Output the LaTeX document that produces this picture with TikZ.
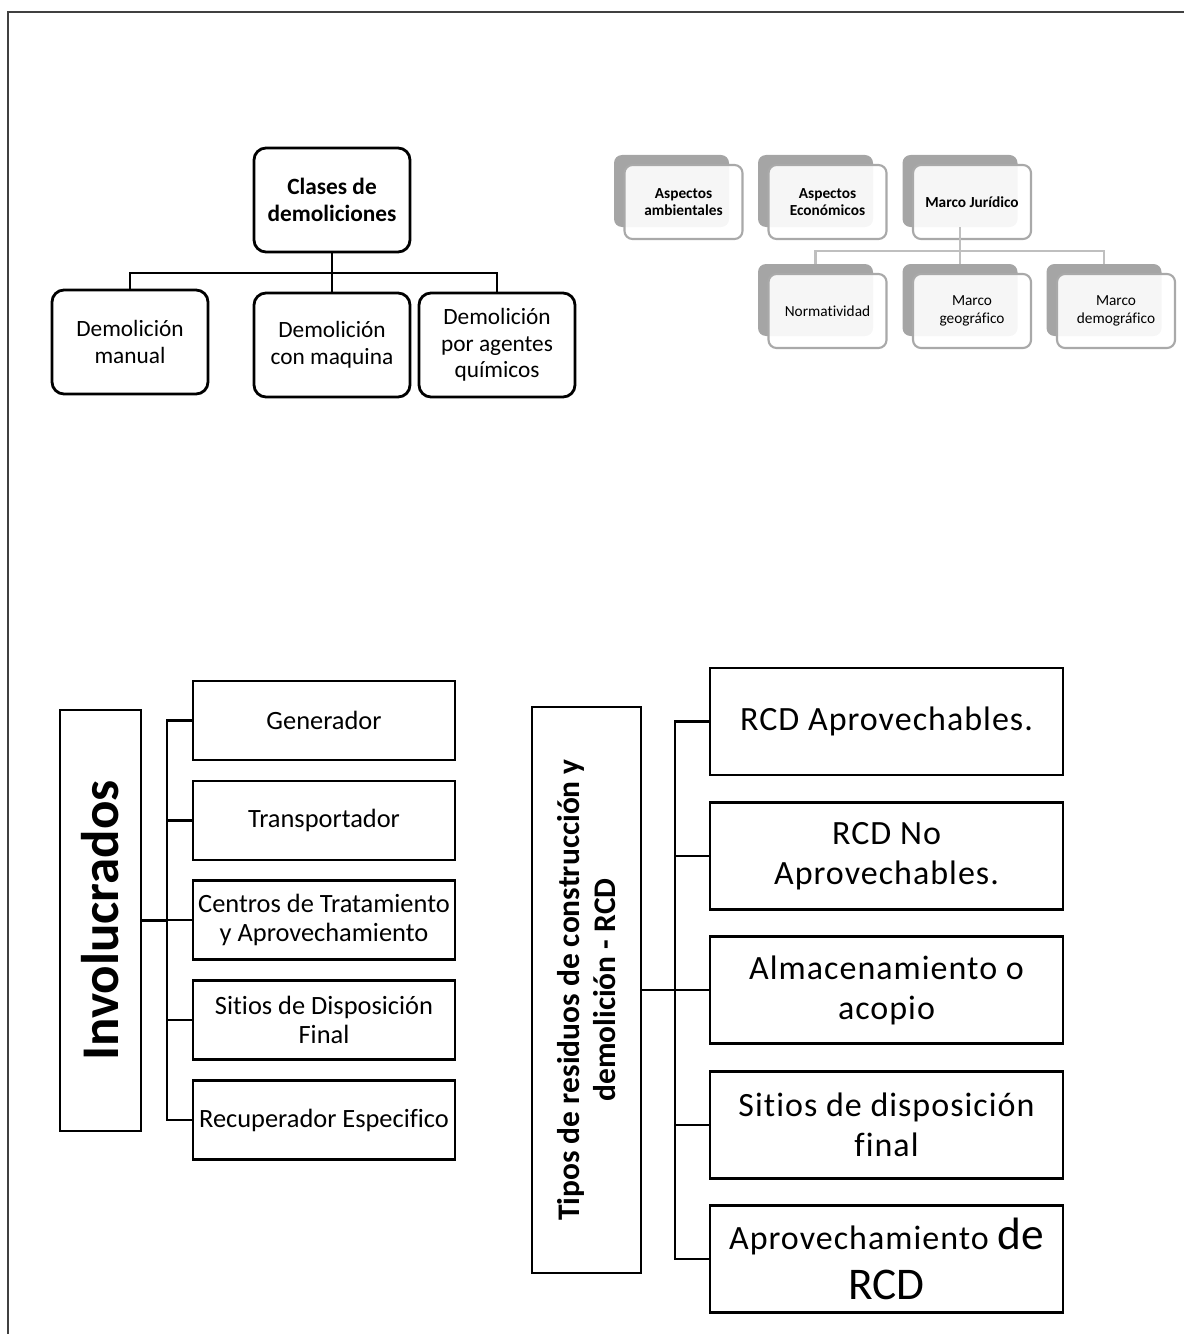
\documentclass[tikz,border=0pt]{standalone}
\usepackage{fontspec}
\setmainfont{Carlito}[Ligatures=NoCommon]
\newfontfamily\widefont[LetterSpace=3,Ligatures=NoCommon]{Carlito}
\definecolor{shadegray}{HTML}{A5A5A5}
\definecolor{edgegray}{HTML}{A9A9A9}
\definecolor{linkgray}{HTML}{BFBFBF}

\begin{document}
\begin{tikzpicture}[x=0.75pt,y=-0.75pt,
	demobox/.style={draw,line width=2.1pt,rounded corners=9pt,minimum width=117pt,minimum height=78pt,align=center,font=\fontsize{17.5}{20}\selectfont},
	backbox/.style={fill=shadegray,rounded corners=6pt,minimum width=86.25pt,minimum height=54pt},
	frontbox/.style={draw=edgegray,line width=1.6pt,fill=white,fill opacity=0.9,text opacity=1,rounded corners=6pt,minimum width=88.5pt,minimum height=55.5pt,align=center,font=\fontsize{11.5}{13}\selectfont},
	link/.style={draw=linkgray,line width=1.8pt},
	tree/.style={line width=2.1pt},
	inbox/.style={draw,line width=2.1pt,inner sep=1pt,minimum width=196.5pt,minimum height=59.25pt,align=center,font=\fontsize{19.8}{21.2}\selectfont},
	rcdbox/.style={draw,line width=2.1pt,inner sep=1pt,minimum width=264.75pt,minimum height=80.25pt,align=center,font=\widefont\fontsize{25.5}{30}\selectfont}]
	
	\useasboundingbox (0,0) rectangle (1184,1334);
	
	% Page frame
	\draw[line width=1.6pt,black!75] (1184,12) -- (8,12) -- (8,1334);
	
	% Clases de demoliciones
	\node[demobox,font=\bfseries\fontsize{17.5}{20}\selectfont] (clases) at (332,200) {Clases de\\demoliciones};
	\node[demobox] (manual) at (130,342) {Demolición\\manual};
	\node[demobox] (maquina) at (332,345) {Demolición\\con maquina};
	\node[demobox] (quimicos) at (497,345) {Demolición\\por agentes\\químicos};
	
	\coordinate (cbus) at (332,273);
	\draw[tree] (clases.south) -- (cbus);
	\draw[tree] (manual.north) |- (cbus) -| (quimicos.north);
	\draw[tree] (cbus) -- (maquina.north);
	
	% Aspectos and Marco Juridico (grey block behind each box)
	\node[backbox] (ambB) at (671.5,191) {};
	\node[frontbox,font=\bfseries\fontsize{11.5}{13}\selectfont] (amb) at (683.5,202) {Aspectos\\ambientales};
	\node[backbox] (ecoB) at (815.5,191) {};
	\node[frontbox,font=\bfseries\fontsize{11.5}{13}\selectfont] (eco) at (827.5,202) {Aspectos\\Económicos};
	\node[backbox] (jurB) at (960,191) {};
	\node[frontbox,font=\bfseries\fontsize{11.5}{13}\selectfont] (jur) at (972,202) {Marco Jurídico};
	
	\node[backbox] (norB) at (815.5,300) {};
	\node[frontbox] (nor) at (827.5,311) {Normatividad};
	\node[backbox] (geoB) at (960,300) {};
	\node[frontbox] (geo) at (972,311) {Marco\\geográfico};
	\node[backbox] (demB) at (1104,300) {};
	\node[frontbox] (dem) at (1116,311) {Marco\\demográfico};
	
	\coordinate (jbus) at (960,251);
	\draw[link] (jurB.south) -- (jbus);
	\draw[link] (norB.north) |- (jbus) -| (demB.north);
	\draw[link] (jbus) -- (geoB.north);
	
	% Involucrados
	\node[draw,line width=2.1pt,rotate=90,minimum width=315.75pt,minimum height=60.75pt,font=\bfseries\fontsize{39.75}{44}\selectfont] (invol) at (100.5,920.5) {Involucrados};
	\node[inbox] (gen) at (324,720.5) {Generador};
	\node[inbox] (trans) at (324,820.5) {Transportador};
	\node[inbox] (centros) at (324,920) {Centros de Tratamiento\\y Aprovechamiento};
	\node[inbox] (sitios) at (324,1020) {Sitios de Disposición\\Final};
	\node[inbox] (recup) at (324,1120) {Recuperador Especifico};
	
	% rotated box: its south side faces right
	\coordinate (ibus) at (167,920.5);
	\draw[tree] (invol.south) -- (ibus);
	\draw[tree] (gen.west) -| (ibus) |- (recup.west);
	\foreach \n in {trans,centros,sitios}
	\draw[tree] (\n.west) -- (\n.west -| ibus);
	
	% Tipos de RCD
	\node[draw,line width=2.1pt,rotate=90,minimum width=424.5pt,minimum height=81.75pt,align=center,font=\bfseries\fontsize{23.6}{26.5}\selectfont] (tipos) at (586.5,990) {Tipos de residuos de construcción y\\demolición - RCD};
	\node[rcdbox] (aprov) at (886.5,721.5) {RCD Aprovechables.};
	\node[rcdbox] (noaprov) at (886.5,856) {RCD No\\Aprovechables.};
	\node[rcdbox] (acopio) at (886.5,990) {Almacenamiento o\\acopio};
	\node[rcdbox] (disp) at (886.5,1125) {Sitios de disposición\\final};
	\node[rcdbox] (aprovrcd) at (886.5,1259) {Aprovechamiento {\rmfamily\fontsize{34}{30}\selectfont de}\\[8pt]{\rmfamily\fontsize{34}{30}\selectfont RCD}};
	
	\coordinate (tbus) at (675,990);
	\draw[tree] (tipos.south) -- (tbus);
	\draw[tree] (aprov.west) -| (tbus) |- (aprovrcd.west);
	\foreach \n in {noaprov,acopio,disp}
	\draw[tree] (\n.west) -- (\n.west -| tbus);
	
\end{tikzpicture}
\end{document}
